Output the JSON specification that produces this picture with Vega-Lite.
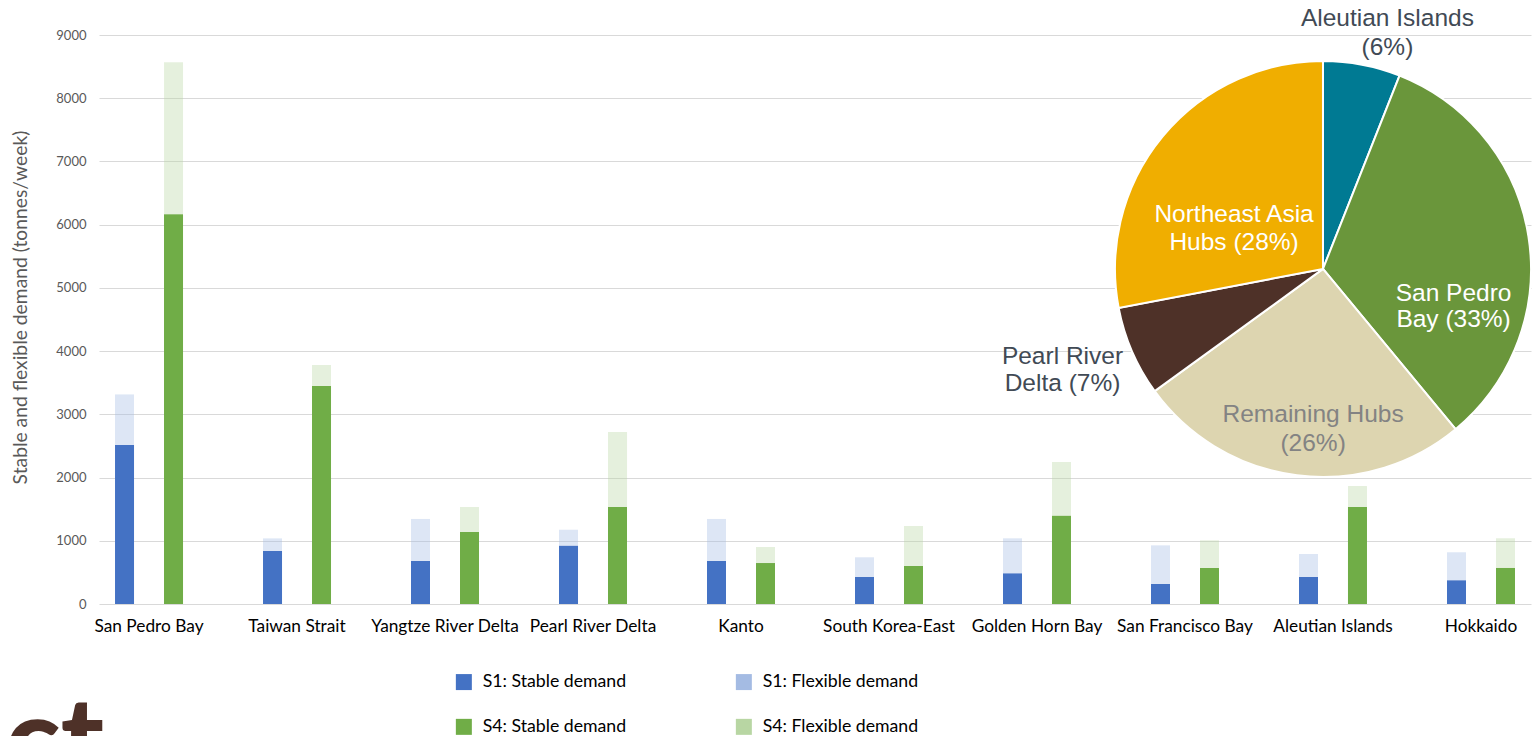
{
  "$schema": "https://vega.github.io/schema/vega-lite/v6.json",
  "width": 1432,
  "height": 569,
  "autosize": {"type": "none"},
  "padding": {"left": 99, "top": 35, "right": 1, "bottom": 132},
  "background": "#ffffff",
  "config": {"view": {"stroke": null}, "font": "Lato"},
  "title": {
    "text": "ct",
    "orient": "bottom",
    "anchor": "start",
    "frame": "group",
    "font": "Lato",
    "fontSize": 115,
    "fontWeight": 900,
    "color": "#4E3128",
    "baseline": "alphabetic",
    "offset": 43,
    "dx": -94
  },
  "datasets": {
    "demand": [
      {"hub": "San Pedro Bay", "scenario": "S1", "kind": "Stable", "series": "S1: Stable demand", "value": 2515},
      {"hub": "San Pedro Bay", "scenario": "S1", "kind": "Flexible", "series": "S1: Flexible demand", "value": 800},
      {"hub": "San Pedro Bay", "scenario": "S4", "kind": "Stable", "series": "S4: Stable demand", "value": 6165},
      {"hub": "San Pedro Bay", "scenario": "S4", "kind": "Flexible", "series": "S4: Flexible demand", "value": 2405},
      {"hub": "Taiwan Strait", "scenario": "S1", "kind": "Stable", "series": "S1: Stable demand", "value": 838},
      {"hub": "Taiwan Strait", "scenario": "S1", "kind": "Flexible", "series": "S1: Flexible demand", "value": 200},
      {"hub": "Taiwan Strait", "scenario": "S4", "kind": "Stable", "series": "S4: Stable demand", "value": 3448},
      {"hub": "Taiwan Strait", "scenario": "S4", "kind": "Flexible", "series": "S4: Flexible demand", "value": 332},
      {"hub": "Yangtze River Delta", "scenario": "S1", "kind": "Stable", "series": "S1: Stable demand", "value": 680},
      {"hub": "Yangtze River Delta", "scenario": "S1", "kind": "Flexible", "series": "S1: Flexible demand", "value": 665},
      {"hub": "Yangtze River Delta", "scenario": "S4", "kind": "Stable", "series": "S4: Stable demand", "value": 1139},
      {"hub": "Yangtze River Delta", "scenario": "S4", "kind": "Flexible", "series": "S4: Flexible demand", "value": 395},
      {"hub": "Pearl River Delta", "scenario": "S1", "kind": "Stable", "series": "S1: Stable demand", "value": 922},
      {"hub": "Pearl River Delta", "scenario": "S1", "kind": "Flexible", "series": "S1: Flexible demand", "value": 253},
      {"hub": "Pearl River Delta", "scenario": "S4", "kind": "Stable", "series": "S4: Stable demand", "value": 1534},
      {"hub": "Pearl River Delta", "scenario": "S4", "kind": "Flexible", "series": "S4: Flexible demand", "value": 1187},
      {"hub": "Kanto", "scenario": "S1", "kind": "Stable", "series": "S1: Stable demand", "value": 680},
      {"hub": "Kanto", "scenario": "S1", "kind": "Flexible", "series": "S1: Flexible demand", "value": 665},
      {"hub": "Kanto", "scenario": "S4", "kind": "Stable", "series": "S4: Stable demand", "value": 648},
      {"hub": "Kanto", "scenario": "S4", "kind": "Flexible", "series": "S4: Flexible demand", "value": 254},
      {"hub": "South Korea-East", "scenario": "S1", "kind": "Stable", "series": "S1: Stable demand", "value": 427},
      {"hub": "South Korea-East", "scenario": "S1", "kind": "Flexible", "series": "S1: Flexible demand", "value": 312},
      {"hub": "South Korea-East", "scenario": "S4", "kind": "Stable", "series": "S4: Stable demand", "value": 601},
      {"hub": "South Korea-East", "scenario": "S4", "kind": "Flexible", "series": "S4: Flexible demand", "value": 633},
      {"hub": "Golden Horn Bay", "scenario": "S1", "kind": "Stable", "series": "S1: Stable demand", "value": 485},
      {"hub": "Golden Horn Bay", "scenario": "S1", "kind": "Flexible", "series": "S1: Flexible demand", "value": 554},
      {"hub": "Golden Horn Bay", "scenario": "S4", "kind": "Stable", "series": "S4: Stable demand", "value": 1397},
      {"hub": "Golden Horn Bay", "scenario": "S4", "kind": "Flexible", "series": "S4: Flexible demand", "value": 849},
      {"hub": "San Francisco Bay", "scenario": "S1", "kind": "Stable", "series": "S1: Stable demand", "value": 316},
      {"hub": "San Francisco Bay", "scenario": "S1", "kind": "Flexible", "series": "S1: Flexible demand", "value": 612},
      {"hub": "San Francisco Bay", "scenario": "S4", "kind": "Stable", "series": "S4: Stable demand", "value": 569},
      {"hub": "San Francisco Bay", "scenario": "S4", "kind": "Flexible", "series": "S4: Flexible demand", "value": 438},
      {"hub": "Aleutian Islands", "scenario": "S1", "kind": "Stable", "series": "S1: Stable demand", "value": 427},
      {"hub": "Aleutian Islands", "scenario": "S1", "kind": "Flexible", "series": "S1: Flexible demand", "value": 364},
      {"hub": "Aleutian Islands", "scenario": "S4", "kind": "Stable", "series": "S4: Stable demand", "value": 1534},
      {"hub": "Aleutian Islands", "scenario": "S4", "kind": "Flexible", "series": "S4: Flexible demand", "value": 332},
      {"hub": "Hokkaido", "scenario": "S1", "kind": "Stable", "series": "S1: Stable demand", "value": 375},
      {"hub": "Hokkaido", "scenario": "S1", "kind": "Flexible", "series": "S1: Flexible demand", "value": 443},
      {"hub": "Hokkaido", "scenario": "S4", "kind": "Stable", "series": "S4: Stable demand", "value": 570},
      {"hub": "Hokkaido", "scenario": "S4", "kind": "Flexible", "series": "S4: Flexible demand", "value": 470}
    ],
    "share": [
      {"region": "Aleutian Islands", "share": 6, "rank": 1, "label": "Aleutian Islands\n(6%)"},
      {"region": "San Pedro Bay", "share": 33, "rank": 2, "label": "San Pedro\nBay (33%)"},
      {"region": "Remaining Hubs", "share": 26, "rank": 3, "label": "Remaining Hubs\n(26%)"},
      {"region": "Pearl River Delta", "share": 7, "rank": 4, "label": "Pearl River\nDelta (7%)"},
      {"region": "Northeast Asia Hubs", "share": 28, "rank": 5, "label": "Northeast Asia\nHubs (28%)"}
    ]
  },
  "layer": [
    {
      "data": {"name": "demand"},
      "mark": {"type": "bar"},
      "encoding": {
        "x": {
          "field": "hub",
          "type": "nominal",
          "scale": {
            "domain": ["San Pedro Bay", "Taiwan Strait", "Yangtze River Delta", "Pearl River Delta", "Kanto", "South Korea-East", "Golden Horn Bay", "San Francisco Bay", "Aleutian Islands", "Hokkaido"],
            "paddingInner": 0.324,
            "paddingOuter": 0
          },
          "axis": {
            "title": null,
            "labelAngle": 0,
            "labelFont": "Lato",
            "labelFontSize": 17.3,
            "labelColor": "#000000",
            "labelPadding": 13,
            "labelLimit": 250,
            "ticks": false,
            "domain": false,
            "grid": false
          }
        },
        "xOffset": {
          "field": "scenario",
          "type": "nominal",
          "scale": {"paddingInner": 0.612, "paddingOuter": 0.327}
        },
        "y": {
          "field": "value",
          "type": "quantitative",
          "stack": "zero",
          "scale": {"domain": [0, 9000], "nice": false},
          "axis": {
            "title": "Stable and flexible demand (tonnes/week)",
            "titleFont": "Lato",
            "titleFontSize": 19.3,
            "titleFontWeight": "normal",
            "titleColor": "#595959",
            "titleAngle": -90,
            "titleX": -79,
            "titleY": 272,
            "titleAlign": "center",
            "titleBaseline": "middle",
            "values": [0, 1000, 2000, 3000, 4000, 5000, 6000, 7000, 8000, 9000],
            "format": "d",
            "labelFont": "Lato",
            "labelFontSize": 13,
            "labelColor": "#595959",
            "labelPadding": 13,
            "ticks": false,
            "domain": false,
            "grid": true,
            "gridColor": "#D9D9D9",
            "gridWidth": 1.2
          }
        },
        "color": {
          "field": "series",
          "type": "nominal",
          "scale": {
            "domain": ["S1: Stable demand", "S1: Flexible demand", "S4: Stable demand", "S4: Flexible demand"],
            "range": ["#4472C4", "#A4BBE3", "#70AD47", "#B8D6A3"]
          },
          "legend": {
            "title": null,
            "orient": "none",
            "legendX": 356,
            "legendY": 638,
            "direction": "horizontal",
            "columns": 2,
            "symbolType": "square",
            "symbolSize": 256,
            "symbolStrokeWidth": 0,
            "labelFont": "Lato",
            "labelFontSize": 17.7,
            "labelColor": "#000000",
            "labelOffset": 10,
            "labelLimit": 300,
            "columnPadding": 108,
            "rowPadding": 26
          }
        },
        "opacity": {
          "field": "kind",
          "type": "nominal",
          "scale": {"type": "ordinal", "domain": ["Stable", "Flexible"], "range": [1, 0.37]},
          "legend": null
        },
        "order": {"field": "kind", "type": "nominal", "sort": "descending"}
      }
    },
    {
      "data": {"name": "share"},
      "mark": {"type": "arc", "outerRadius": 208, "stroke": "#ffffff", "strokeWidth": 2},
      "encoding": {
        "x": {"datum": "Aleutian Islands", "type": "nominal", "bandPosition": 0.4},
        "y": {"datum": 5300, "type": "quantitative"},
        "theta": {"field": "share", "type": "quantitative", "stack": true},
        "order": {"field": "rank", "type": "quantitative"},
        "fill": {
          "field": "region",
          "type": "nominal",
          "scale": {
            "domain": ["Aleutian Islands", "San Pedro Bay", "Remaining Hubs", "Pearl River Delta", "Northeast Asia Hubs"],
            "range": ["#007A93", "#6A963B", "#DDD5B0", "#4E3128", "#F0AE00"]
          },
          "legend": null
        }
      }
    },
    {
      "data": {"name": "share"},
      "mark": {"type": "text", "radius": 258, "thetaOffset": 0.064, "font": "Liberation Sans", "fontSize": 24.5, "lineBreak": "\n", "lineHeight": 29, "color": "#414A55", "align": "center", "baseline": "middle"},
      "encoding": {
        "x": {"datum": "Aleutian Islands", "type": "nominal", "bandPosition": 0.4},
        "y": {"datum": 5300, "type": "quantitative"},
        "theta": {"field": "share", "type": "quantitative", "stack": true},
        "order": {"field": "rank", "type": "quantitative"},
        "detail": {"field": "region", "type": "nominal"},
        "text": {"condition": {"test": "datum.region === 'Aleutian Islands'", "field": "label", "type": "nominal"}, "value": ""}
      }
    },
    {
      "data": {"name": "share"},
      "mark": {"type": "text", "radius": 133, "thetaOffset": 0.347, "font": "Liberation Sans", "fontSize": 24.5, "lineBreak": "\n", "lineHeight": 26, "color": "#ffffff", "align": "center", "baseline": "middle"},
      "encoding": {
        "x": {"datum": "Aleutian Islands", "type": "nominal", "bandPosition": 0.4},
        "y": {"datum": 5300, "type": "quantitative"},
        "theta": {"field": "share", "type": "quantitative", "stack": true},
        "order": {"field": "rank", "type": "quantitative"},
        "detail": {"field": "region", "type": "nominal"},
        "text": {"condition": {"test": "datum.region === 'San Pedro Bay'", "field": "label", "type": "nominal"}, "value": ""}
      }
    },
    {
      "data": {"name": "share"},
      "mark": {"type": "text", "radius": 146, "thetaOffset": -0.058, "font": "Liberation Sans", "fontSize": 24.5, "lineBreak": "\n", "lineHeight": 29, "color": "#838383", "align": "center", "baseline": "middle"},
      "encoding": {
        "x": {"datum": "Aleutian Islands", "type": "nominal", "bandPosition": 0.4},
        "y": {"datum": 5300, "type": "quantitative"},
        "theta": {"field": "share", "type": "quantitative", "stack": true},
        "order": {"field": "rank", "type": "quantitative"},
        "detail": {"field": "region", "type": "nominal"},
        "text": {"condition": {"test": "datum.region === 'Remaining Hubs'", "field": "label", "type": "nominal"}, "value": ""}
      }
    },
    {
      "data": {"name": "share"},
      "mark": {"type": "text", "radius": 275, "thetaOffset": 0.082, "font": "Liberation Sans", "fontSize": 24.5, "lineBreak": "\n", "lineHeight": 27, "color": "#414A55", "align": "center", "baseline": "middle"},
      "encoding": {
        "x": {"datum": "Aleutian Islands", "type": "nominal", "bandPosition": 0.4},
        "y": {"datum": 5300, "type": "quantitative"},
        "theta": {"field": "share", "type": "quantitative", "stack": true},
        "order": {"field": "rank", "type": "quantitative"},
        "detail": {"field": "region", "type": "nominal"},
        "text": {"condition": {"test": "datum.region === 'Pearl River Delta'", "field": "label", "type": "nominal"}, "value": ""}
      }
    },
    {
      "data": {"name": "share"},
      "mark": {"type": "text", "radius": 104, "thetaOffset": -0.146, "font": "Liberation Sans", "fontSize": 24.5, "lineBreak": "\n", "lineHeight": 28, "color": "#ffffff", "align": "center", "baseline": "middle"},
      "encoding": {
        "x": {"datum": "Aleutian Islands", "type": "nominal", "bandPosition": 0.4},
        "y": {"datum": 5300, "type": "quantitative"},
        "theta": {"field": "share", "type": "quantitative", "stack": true},
        "order": {"field": "rank", "type": "quantitative"},
        "detail": {"field": "region", "type": "nominal"},
        "text": {"condition": {"test": "datum.region === 'Northeast Asia Hubs'", "field": "label", "type": "nominal"}, "value": ""}
      }
    }
  ]
}
